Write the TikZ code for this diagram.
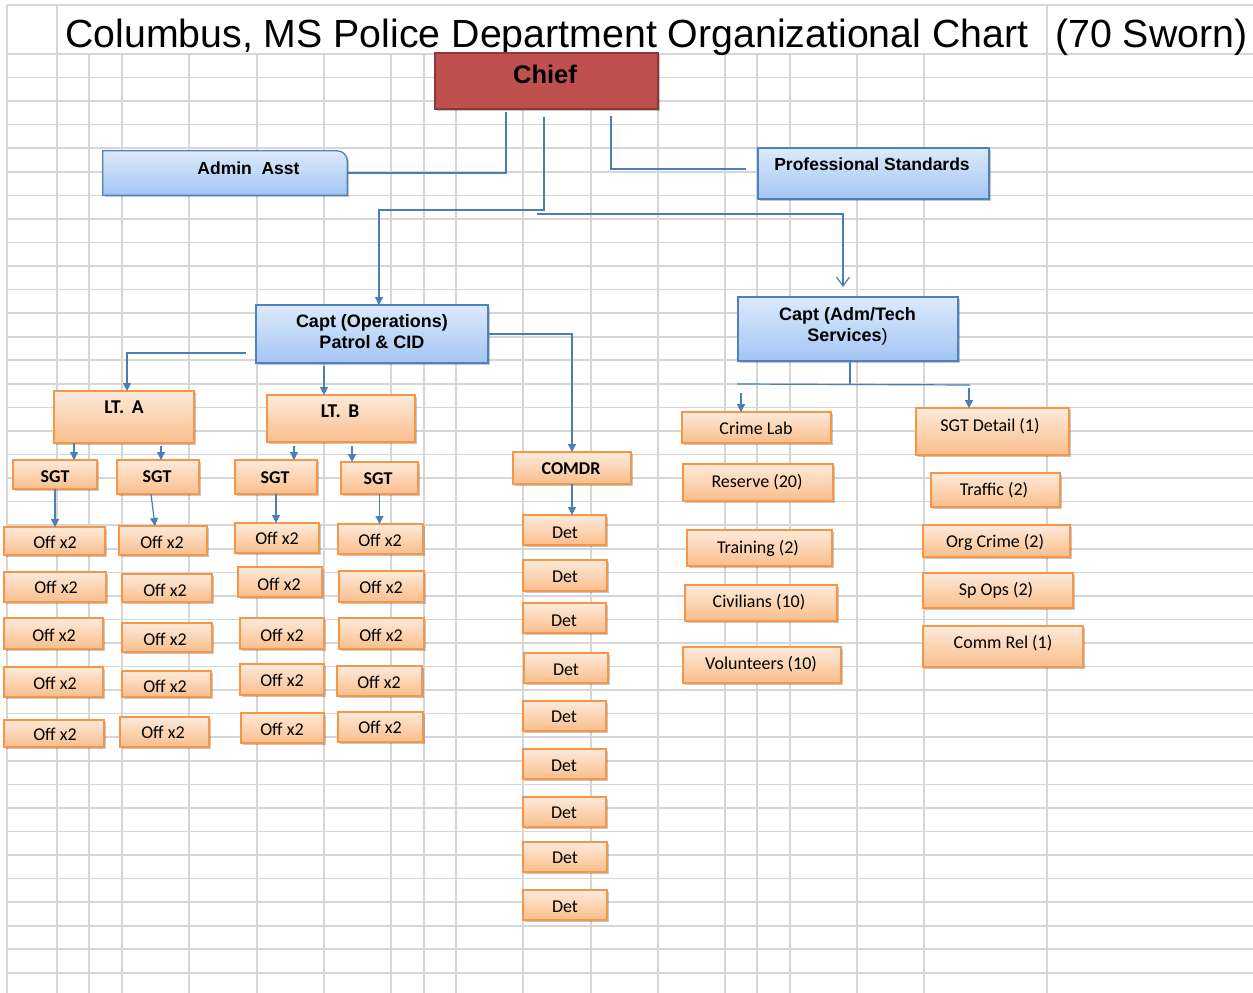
\documentclass[tikz,border=0pt]{standalone}
\usepackage{fontspec}
\setmainfont{Liberation Sans}
\newfontfamily\calibfont{Carlito}
\usetikzlibrary{arrows.meta,shadows,calc}
\definecolor{gridc}{RGB}{214,214,214}
\definecolor{connc}{RGB}{74,126,187}
\definecolor{otop}{RGB}{253,234,218}
\definecolor{obot}{RGB}{250,190,140}
\definecolor{oline}{RGB}{247,150,70}
\definecolor{btop}{RGB}{220,234,252}
\definecolor{bbot}{RGB}{163,197,243}
\definecolor{bline}{RGB}{79,129,189}
\definecolor{cfill}{RGB}{192,80,77}
\definecolor{cline}{RGB}{140,56,54}
\tikzset{
  gridline/.style={draw=gridc, line width=1.6pt},
  boxbase/.style={rectangle, inner sep=0pt, outer sep=0pt,
    drop shadow={shadow xshift=2pt, shadow yshift=-2pt, opacity=0.22, fill=black}},
  obox/.style={boxbase, draw=oline, line width=1.3pt, top color=otop, bottom color=obot},
  bbox/.style={boxbase, draw=bline, line width=1.3pt, top color=btop, bottom color=bbot},
  cbox/.style={boxbase, draw=cline, line width=2pt, fill=cfill},
  oboxtxt/.style={inner sep=0pt, font=\calibfont\fontsize{18}{21}\selectfont, text height=11.6pt, text depth=0pt},
  bboxtxt/.style={inner sep=0pt, font=\bfseries\fontsize{17.5}{21}\selectfont, text height=12.5pt, text depth=0pt},
  bboxml/.style={inner sep=0pt, align=center, font=\bfseries\fontsize{18}{21}\selectfont},
  cboxtxt/.style={inner sep=0pt, font=\bfseries\fontsize{25.5}{30}\selectfont, text height=18.3pt, text depth=0pt},
  conn/.style={draw=connc, line width=1.2pt},
  arr/.style={conn, -{Triangle[length=8pt,width=8pt]}},
  oarr/.style={conn, -{Straight Barb[length=9pt,width=13pt]}},
  titletxt/.style={inner sep=0pt, anchor=base west, font=\fontsize{39.3}{45}\selectfont}
}
% #1 name, #2 style, #3-#6 corners (x1,y1,x2,y2), #7,#8 text position, #9 text
\newcommand{\bx}[9]{%
  \node[#2, minimum width={#5pt-#3pt}, minimum height={#6pt-#4pt}] (#1) at ({(#3+#5)/2},{(#4+#6)/2}) {};
  \node[#2txt] at (#7,#8) {#9};}
\begin{document}
\begin{tikzpicture}[x=1pt,y=-1pt]
\useasboundingbox (0,0) rectangle (1253,993);
\fill[white] (0,0) rectangle (1253,993);
% grid
\draw[gridline] (7,5) -- (1253,5);
\foreach \k in {0,...,40} {
  \pgfmathsetmacro\yy{54+23.56*\k}
  \draw[gridline] (7,\yy) -- (1253,\yy);
}
\foreach \x in {7,57,1047} \draw[gridline] (\x,5) -- (\x,54);
\foreach \x in {7,57,89,122,189,257,324,391,424,456,523,591,658,725,757,790,857,924,1047}
  \draw[gridline] (\x,54) -- (\x,993);

% title
\node[titletxt] (title) at (65,47) {Columbus, MS Police Department Organizational Chart};
\node[titletxt] (sworn) at (1055,47) {(70 Sworn)};

% top level
\bx{chief}{cbox}{435}{53}{658}{109}{545}{74}{Chief}
\node[rectangle, inner sep=0pt, minimum width=244pt, minimum height=44pt] (admin) at (225,173) {};
\path[draw=bline, line width=1.3pt, top color=btop, bottom color=bbot,
  drop shadow={shadow xshift=2pt, shadow yshift=-2pt, opacity=0.22, fill=black}]
  (admin.south west) -- (admin.north west) -- ([xshift=-10pt]admin.north east)
  .. controls ([xshift=-4.5pt]admin.north east) and ([yshift=-4.5pt]admin.north east) .. ([yshift=-10pt]admin.north east)
  -- (admin.south east) -- cycle;
\node[bboxtxt] at (248.5,168) {Admin\ \ Asst};
\bx{prof}{bbox}{758}{148}{989}{199}{872}{164.5}{Professional Standards}

% captains
\node[bbox, minimum width=232pt, minimum height=58pt] (capops) at (372,334) {};
\node[bboxml] at (372,331.5) {Capt (Operations)\\Patrol \& CID};
\node[bbox, minimum width=220pt, minimum height=64pt] (capadm) at (848,329) {};
\node[bboxml] at (847.5,326) {Capt (Adm/Tech\\Services{\mdseries)}};

% lieutenants and sergeants
\bx{ltA}{obox}{54}{391}{194}{443}{124}{408}{\bfseries\fontsize{19.5}{21}\selectfont LT.\hspace{3pt} A}
\bx{ltB}{obox}{267}{395}{415}{442}{340}{412}{\bfseries\fontsize{19.5}{21}\selectfont LT.\hspace{3pt} B}
\bx{sgt1}{obox}{13}{460}{97}{489}{55}{477}{\bfseries SGT}
\bx{sgt2}{obox}{117}{460}{199}{494}{157}{477}{\bfseries SGT}
\bx{sgt3}{obox}{235}{460}{317}{494}{275}{478}{\bfseries SGT}
\bx{sgt4}{obox}{341}{462}{418}{494}{378}{479}{\bfseries SGT}

% officers
\bx{offA1}{obox}{4}{527}{105}{555}{55}{543}{Off x2}
\bx{offA2}{obox}{4}{572}{106}{602}{56}{588}{Off x2}
\bx{offA3}{obox}{4}{618}{103}{649}{54}{636}{Off x2}
\bx{offA4}{obox}{4}{667}{103}{697}{55}{684}{Off x2}
\bx{offA5}{obox}{4}{720}{104}{747}{55}{735}{Off x2}
\bx{offB1}{obox}{119}{526}{207}{555}{162}{543}{Off x2}
\bx{offB2}{obox}{122}{574}{212}{602}{165}{591}{Off x2}
\bx{offB3}{obox}{122}{623}{212}{652}{165}{640}{Off x2}
\bx{offB4}{obox}{122}{671}{211}{697}{165}{687}{Off x2}
\bx{offB5}{obox}{120}{717}{209}{747}{163}{733}{Off x2}
\bx{offC1}{obox}{235}{523}{319}{553}{277}{539}{Off x2}
\bx{offC2}{obox}{238}{567}{322}{597}{279}{585}{Off x2}
\bx{offC3}{obox}{240}{618}{324}{649}{282}{636}{Off x2}
\bx{offC4}{obox}{240}{664}{324}{695}{282}{681}{Off x2}
\bx{offC5}{obox}{241}{713}{324}{743}{282}{730}{Off x2}
\bx{offD1}{obox}{338}{524}{423}{554}{380}{541}{Off x2}
\bx{offD2}{obox}{339}{571}{424}{602}{381}{588}{Off x2}
\bx{offD3}{obox}{339}{618}{424}{649}{381}{636}{Off x2}
\bx{offD4}{obox}{337}{666}{422}{696}{379}{683}{Off x2}
\bx{offD5}{obox}{338}{712}{423}{742}{380}{728}{Off x2}

% commander and detectives
\bx{comdr}{obox}{513}{452}{631}{484}{571}{469}{\bfseries COMDR}
\bx{det1}{obox}{523}{515}{606}{545}{565}{533}{Det}
\bx{det2}{obox}{523}{560}{607}{591}{565}{577}{Det}
\bx{det3}{obox}{523}{603}{606}{633}{564}{621}{Det}
\bx{det4}{obox}{524}{653}{608}{683}{566}{670}{Det}
\bx{det5}{obox}{523}{701}{606}{731}{564}{717}{Det}
\bx{det6}{obox}{523}{749}{606}{779}{564}{766}{Det}
\bx{det7}{obox}{523}{797}{606}{827}{564}{813}{Det}
\bx{det8}{obox}{523}{842}{607}{872}{565}{858}{Det}
\bx{det9}{obox}{523}{890}{607}{920}{565}{907}{Det}

% adm/tech units
\bx{crime}{obox}{682}{412}{831}{443}{756}{429}{Crime Lab}
\bx{reserve}{obox}{683}{464}{833}{501}{757}{482}{Reserve (20)}
\bx{training}{obox}{687}{530}{832}{566}{758}{548}{Training (2)}
\bx{civ}{obox}{685}{585}{837}{621}{759}{602}{Civilians (10)}
\bx{vol}{obox}{683}{647}{841}{683}{761}{664}{Volunteers (10)}
\bx{sgtdet}{obox}{916}{408}{1069}{455}{990}{426}{SGT Detail (1)}
\bx{traffic}{obox}{931}{473}{1060}{507}{994}{490}{Traffic (2)}
\bx{orgcrime}{obox}{923}{525}{1070}{557}{995}{542}{Org Crime (2)}
\bx{spops}{obox}{923}{573}{1073}{608}{996}{590}{Sp Ops (2)}
\bx{commrel}{obox}{923}{626}{1083}{667}{1003}{643}{Comm Rel (1)}

% connectors from chief
\coordinate (ch1) at (506,112);
\draw[conn] (ch1) |- (admin.east);
\coordinate (ch2) at (544,117);
\coordinate (ch2b) at (379,210);
\draw[arr] (ch2) |- (ch2b) -- (ch2b |- capops.north);
\coordinate (ch3) at (611,116);
\coordinate (ch3e) at (746,169);
\draw[conn] (ch3) |- (ch3e);
\coordinate (ch4) at (537,214);
\coordinate (ch4e) at (843,287);
\draw[oarr] (ch4) -| (ch4e);

% connectors from capt operations
\coordinate (op1) at (246,353);
\coordinate (op1b) at (127,353);
\draw[arr] (op1) -- (op1b) -- (op1b |- ltA.north);
\coordinate (op2) at (324,366);
\draw[arr] (op2) -- (op2 |- ltB.north);
\draw[arr] (capops.east) -| (comdr.north);

% lieutenants to sergeants
\coordinate (la1) at (74,443);
\draw[arr] (la1) -- (la1 |- sgt1.north);
\coordinate (la2) at (161,446);
\draw[arr] (la2) -- (la2 |- sgt2.north);
\coordinate (lb1) at (294,446);
\draw[arr] (lb1) -- (lb1 |- sgt3.north);
\coordinate (lb2) at (352,446);
\draw[arr] (lb2) -- (lb2 |- sgt4.north);

% sergeants to officers
\draw[arr] (sgt1.south) -- (sgt1.south |- offA1.north);
\coordinate (s2a) at (151,494);
\draw[arr] (s2a) -- ([xshift=-8pt]offB1.north);
\draw[arr] (sgt3.south) -- (sgt3.south |- offC1.north);
\draw[arr] (sgt4.south) -- (sgt4.south |- offD1.north);

% commander to detectives
\draw[arr] (comdr.south) -- (comdr.south |- det1.north);

% capt adm/tech
\coordinate (ad0) at (850,385);
\draw[conn] (capadm.south -| ad0) -- (ad0);
\coordinate (adL) at (737,384);
\coordinate (adR) at (970,385);
\draw[conn] (adL) -- (adR);
\coordinate (ad1) at (741,393);
\draw[arr] (ad1) -- (ad1 |- crime.north);
\coordinate (ad2) at (969,388);
\draw[arr] (ad2) -- (ad2 |- sgtdet.north);
\end{tikzpicture}
\end{document}
